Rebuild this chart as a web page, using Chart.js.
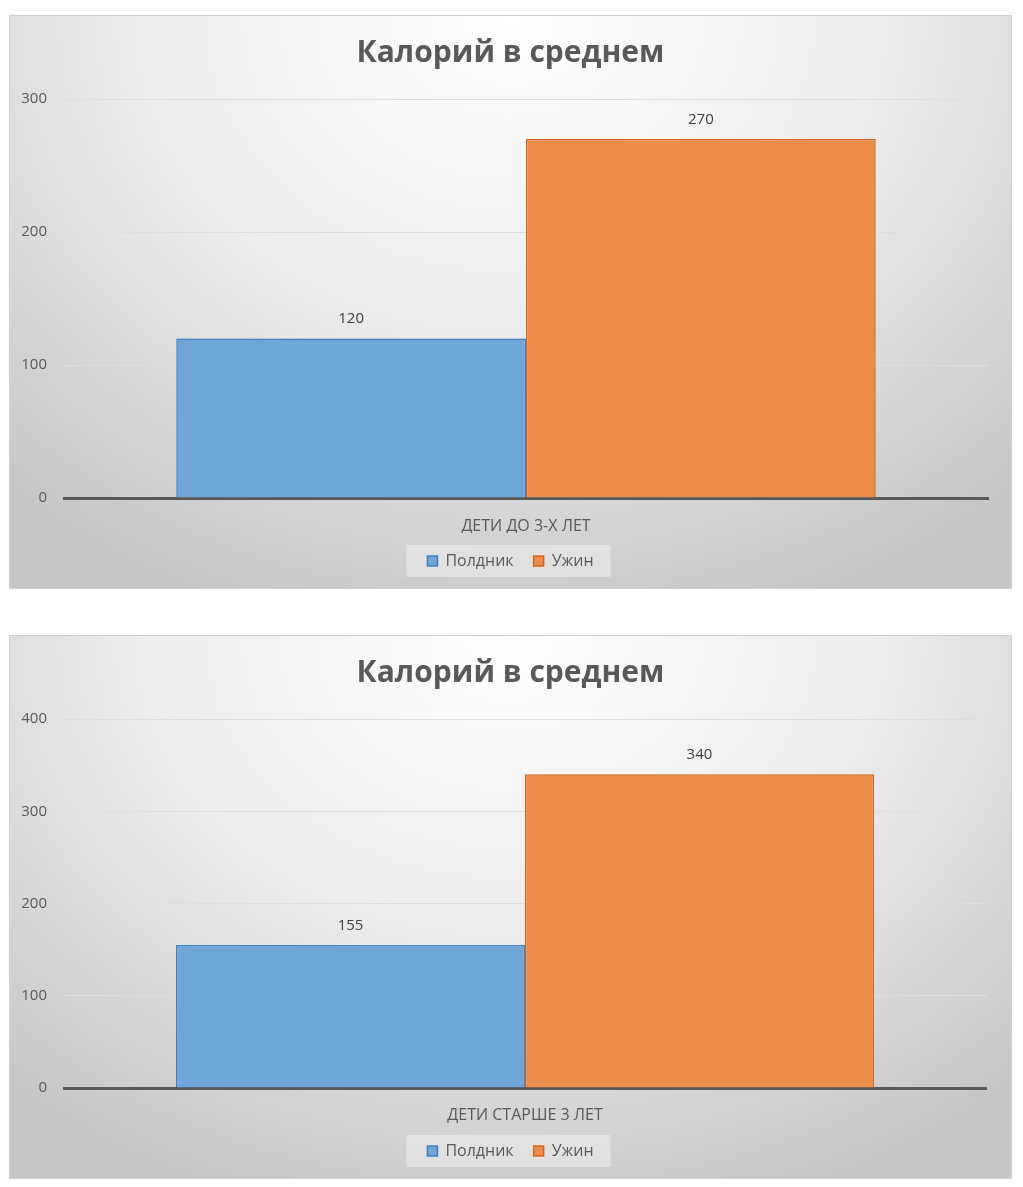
<!DOCTYPE html>
<html>
<head>
<meta charset="utf-8">
<script src="https://cdn.jsdelivr.net/npm/chart.js@4"></script>
<style>
  body { margin: 0; background: #ffffff; }
  .box {
    position: absolute;
    left: 9px;
    width: 1001px;
    border: 1px solid #d0d0d0;
    background: radial-gradient(ellipse 75% 110% at 50% 0%, #ffffff 0%, #ececec 50%, #c6c6c6 100%);
  }
  #box1 { top: 15px; height: 572px; }
  #box2 { top: 635px; height: 542px; }
  canvas { display: block; }
</style>
</head>
<body>
<div class="box" id="box1"><canvas id="chart1"></canvas></div>
<div class="box" id="box2"><canvas id="chart2"></canvas></div>
<script>
// данные
const seriesNames = ['Полдник', 'Ужин'];
const chartTitle = 'Калорий в среднем';

const categories1 = ['ДЕТИ ДО 3-Х ЛЕТ'];
const snack1 = [120];
const dinner1 = [270];
const yMax1 = 300;

const categories2 = ['ДЕТИ СТАРШЕ 3 ЛЕТ'];
const snack2 = [155];
const dinner2 = [340];
const yMax2 = 400;

const yStep = 100;

Chart.defaults.font.family = '"Open Sans", sans-serif';
Chart.defaults.color = '#595959';

// подписи значений над столбиками
const valueLabels = {
    id: 'valueLabels',
    afterDatasetsDraw(chart) {
        const ctx = chart.ctx;
        ctx.save();
        ctx.font = '15px "Open Sans", sans-serif';
        ctx.fillStyle = '#404040';
        ctx.textAlign = 'center';
        ctx.textBaseline = 'bottom';
        chart.data.datasets.forEach(function(ds, i) {
            chart.getDatasetMeta(i).data.forEach(function(bar, j) {
                ctx.fillText(ds.data[j], bar.x, bar.y - 12);
            });
        });
        ctx.restore();
    }
};

// светлая подложка под легендой
const legendBg = {
    id: 'legendBg',
    beforeDraw(chart) {
        const boxes = chart.legend && chart.legend.legendHitBoxes;
        if (!boxes || !boxes.length) return;
        let l = Infinity, r = -Infinity, t = Infinity, b = -Infinity;
        boxes.forEach(function(h) {
            l = Math.min(l, h.left); r = Math.max(r, h.left + h.width);
            t = Math.min(t, h.top); b = Math.max(b, h.top + h.height);
        });
        const ctx = chart.ctx;
        ctx.save();
        ctx.fillStyle = 'rgba(255,255,255,0.35)';
        ctx.fillRect(l - 21, t - 8, r - l + 38, b - t + 16);
        ctx.restore();
    }
};

function makeChart(id, categories, snack, dinner, yMax, opts) {
    const ctx = document.getElementById(id).getContext('2d');
    return new Chart(ctx, {
        type: 'bar',
        data: {
            labels: categories,
            datasets: [{
                label: seriesNames[0],
                data: snack,
                backgroundColor: '#6fa5d7',
                borderColor: '#3f7fc3',
                borderWidth: 1.5,
                borderSkipped: 'bottom'
            }, {
                label: seriesNames[1],
                data: dinner,
                backgroundColor: '#ec8c4b',
                borderColor: '#d0651f',
                borderWidth: 1.5,
                borderSkipped: 'bottom'
            }]
        },
        options: {
            responsive: true,
            maintainAspectRatio: false,
            animation: false,
            layout: { padding: { left: 0, right: 0, top: 0, bottom: opts.bottom } },
            datasets: { bar: { categoryPercentage: 0.757, barPercentage: 1.0 } },
            plugins: {
                title: {
                    display: true,
                    text: chartTitle,
                    color: '#595959',
                    font: { size: 30, weight: 'bold' },
                    padding: { top: opts.titleTop, bottom: opts.titleBottom }
                },
                legend: {
                    position: 'bottom',
                    labels: {
                        boxWidth: 10,
                        boxHeight: 10,
                        padding: 20,
                        color: '#595959',
                        font: { size: 16 }
                    }
                },
                tooltip: { enabled: false }
            },
            scales: {
                x: {
                    grid: { display: false },
                    border: { display: true, color: '#595959', width: 3 },
                    ticks: { color: '#595959', font: { size: 16 }, padding: opts.xPad },
                    afterFit: function(scale) { scale.height = opts.xHeight; }
                },
                y: {
                    min: 0,
                    max: yMax,
                    ticks: { stepSize: yStep, color: '#595959', font: { size: 15 }, padding: 17 },
                    grid: { color: '#dedede', lineWidth: 1, drawTicks: false },
                    border: { display: false },
                    afterFit: function(scale) { scale.width = 54; }
                },
                // пустая правая ось — отступ справа, чтобы заголовок остался по центру
                yRight: {
                    position: 'right',
                    grid: { display: false },
                    border: { display: false },
                    ticks: { display: false },
                    afterFit: function(scale) { scale.width = opts.right; }
                }
            }
        },
        plugins: [legendBg, valueLabels]
    });
}

makeChart('chart1', categories1, snack1, dinner1, yMax1,
    { right: 23, bottom: 9, titleTop: 19, titleBottom: 28, xPad: 11, xHeight: 35 });
makeChart('chart2', categories2, snack2, dinner2, yMax2,
    { right: 25, bottom: 9, titleTop: 19, titleBottom: 28, xPad: 10, xHeight: 35 });
</script>
</body>
</html>
